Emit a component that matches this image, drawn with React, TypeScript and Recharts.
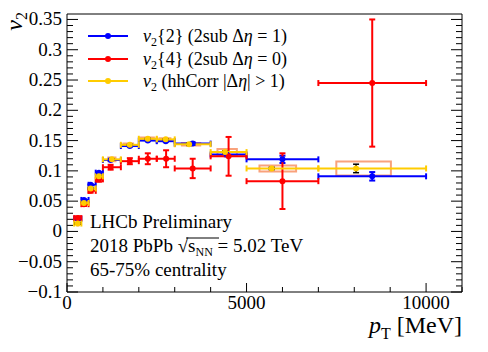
import React from 'react';
import { ComposedChart, Scatter, XAxis, YAxis, ErrorBar, ReferenceArea } from 'recharts';

const FONT = '"Liberation Serif", "Times New Roman", serif';
const BLUE = '#0000ff';
const RED = '#ff0000';
const GOLD = '#ffcc00';
const BOX = '#f9a27c';

// pT bins (MeV)
const binLo = [200, 400, 600, 800, 1000, 1500, 2000, 2500, 3000, 4000, 5000, 7000];
const binHi = [400, 600, 800, 1000, 1500, 2000, 2500, 3000, 4000, 5000, 7000, 10000];

// v2{2} (2sub, deta = 1)
const v22Pt = [305, 472, 658, 889, 1215, 1750, 2250, 2750, 3500, 4450, 6000, 8500];
const v22 = [0.021, 0.052, 0.077, 0.097, 0.118, 0.141, 0.15, 0.149, 0.145, 0.127, 0.119, 0.091];
const v22Err = [0.001, 0.001, 0.001, 0.001, 0.001, 0.001, 0.001, 0.001, 0.002, 0.003, 0.006, 0.007];

// v2{4} (2sub, deta = 0)
const v24Pt = [305, 472, 658, 889, 1215, 1750, 2250, 2760, 3500, 4500, 6000, 8500];
const v24 = [0.022, 0.045, 0.067, 0.086, 0.106, 0.116, 0.12, 0.12, 0.104, 0.124, 0.083, 0.245];
const v24Err = [0.003, 0.003, 0.003, 0.004, 0.004, 0.005, 0.009, 0.014, 0.016, 0.032, 0.046, 0.105];

// v2 hhCorr |deta| > 1, with systematic boxes
const hhPt = [300, 472, 658, 889, 1250, 1750, 2250, 2750, 3400, 4400, 5700, 8050];
const hh = [0.013, 0.047, 0.071, 0.091, 0.119, 0.143, 0.153, 0.152, 0.144, 0.131, 0.104, 0.104];
const hhErr = [0.001, 0.001, 0.001, 0.001, 0.001, 0.001, 0.001, 0.001, 0.002, 0.002, 0.002, 0.007];
const hhSysLo = [280, 440, 620, 830, 1150, 1570, 2050, 2575, 3200, 4190, 5360, 7500];
const hhSysHi = [320, 500, 700, 950, 1350, 1840, 2420, 2880, 3710, 4730, 6380, 9020];
const hhSys = [0.003, 0.003, 0.003, 0.003, 0.003, 0.002, 0.002, 0.002, 0.002, 0.005, 0.005, 0.0115];

// axis ticks
const xTicks = [0, 1000, 2000, 3000, 4000, 5000, 6000, 7000, 8000, 9000, 10000, 11000];
const xMajor = [0, 5000, 10000];
const yTicks: number[] = [];
for (let i = -10; i <= 35; i++) yTicks.push(i / 100);

const mk = (pt: number[], v: number[], err: number[]) =>
    pt.map((x, i) => ({ x, y: v[i], ex: [x - binLo[i], binHi[i] - x], ey: err[i] }));

const blueData = mk(v22Pt, v22, v22Err);
const redData = mk(v24Pt, v24, v24Err);
const goldData = mk(hhPt, hh, hhErr);

const fmtY = (v: number) => (v === 0 ? '0' : String(v).replace('-', '\u2212'));
const isMajorY = (v: number) => Math.round(v * 100) % 5 === 0;

const dot = (color: string) => (p: any) => <circle cx={p.cx} cy={p.cy} r={3} fill={color} />;

const labelStyle = { fontFamily: FONT, fontSize: 19 };

const BottomTick = (p: any) => {
    const major = xMajor.includes(p.payload.value);
    return (
        <g>
            <line x1={p.x} x2={p.x} y1={p.y} y2={p.y - (major ? 9 : 5)} stroke="#000" />
            {major && (
                <text x={p.x} y={p.y + 17} textAnchor="middle" style={labelStyle} fill="#000">
                    {p.payload.value}
                </text>
            )}
        </g>
    );
};

const TopTick = (p: any) => {
    const major = xMajor.includes(p.payload.value);
    return <line x1={p.x} x2={p.x} y1={p.y} y2={p.y + (major ? 9 : 5)} stroke="#000" />;
};

const LeftTick = (p: any) => {
    const major = isMajorY(p.payload.value);
    return (
        <g>
            <line x1={p.x} x2={p.x + (major ? 11 : 6)} y1={p.y} y2={p.y} stroke="#000" />
            {major && (
                <text x={p.x - 5} y={p.y + 6} textAnchor="end" style={labelStyle} fill="#000">
                    {fmtY(p.payload.value)}
                </text>
            )}
        </g>
    );
};

const RightTick = (p: any) => {
    const major = isMajorY(p.payload.value);
    return <line x1={p.x} x2={p.x - (major ? 11 : 6)} y1={p.y} y2={p.y} stroke="#000" />;
};

const Overlay = () => (
    <svg width={488} height={352} style={{ position: 'absolute', left: 0, top: 0, pointerEvents: 'none', fontFamily: FONT }}>
        {/* legend */}
        {[
            { c: BLUE, y: 36 },
            { c: RED, y: 59 },
            { c: GOLD, y: 81 },
        ].map((l) => (
            <g key={l.y}>
                <line x1={88} x2={128} y1={l.y} y2={l.y} stroke={l.c} strokeWidth={2} />
                <circle cx={108} cy={l.y} r={3} fill={l.c} />
            </g>
        ))}
        <text x={143} y={42} fontSize={18} fill="#000">
            <tspan fontStyle="italic">v</tspan>
            <tspan fontSize={12} dy={4}>2</tspan>
            <tspan dy={-4}>{'{2} (2sub \u0394'}</tspan>
            <tspan fontStyle="italic">η</tspan>
            <tspan>{' = 1)'}</tspan>
        </text>
        <text x={143} y={65} fontSize={18} fill="#000">
            <tspan fontStyle="italic">v</tspan>
            <tspan fontSize={12} dy={4}>2</tspan>
            <tspan dy={-4}>{'{4} (2sub \u0394'}</tspan>
            <tspan fontStyle="italic">η</tspan>
            <tspan>{' = 0)'}</tspan>
        </text>
        <text x={143} y={87} fontSize={18} fill="#000">
            <tspan fontStyle="italic">v</tspan>
            <tspan fontSize={12} dy={4}>2</tspan>
            <tspan dy={-4}>{' (hhCorr |\u0394'}</tspan>
            <tspan fontStyle="italic">η</tspan>
            <tspan>{'| > 1)'}</tspan>
        </text>

        {/* labels */}
        <text x={90} y={227.5} fontSize={19} fill="#000">LHCb Preliminary</text>
        <text x={90} y={251.5} fontSize={19} fill="#000">
            <tspan>{'2018 PbPb \u221A'}</tspan>
            <tspan>s</tspan>
            <tspan fontSize={12} dy={4}>NN</tspan>
            <tspan dy={-4}>{' = 5.02 TeV'}</tspan>
        </text>
        <line x1={186} x2={219} y1={238} y2={238} stroke="#000" strokeWidth={1} />
        <text x={90} y={276} fontSize={19} fill="#000">65-75% centrality</text>

        {/* axis titles */}
        <text transform="translate(22, 12) rotate(-90)" textAnchor="end" fontSize={24} fill="#000">
            <tspan fontStyle="italic">v</tspan>
            <tspan fontSize={16} dy={5}>2</tspan>
        </text>
        <text x={462} y={333} textAnchor="end" fontSize={24} fill="#000">
            <tspan fontStyle="italic">p</tspan>
            <tspan fontSize={16} dy={6}>T</tspan>
            <tspan dy={-6}>{' [MeV]'}</tspan>
        </text>
    </svg>
);

const App: React.FC = () => {
    return (
        <div style={{ position: 'absolute', left: 0, top: 0, width: 488, height: 352, background: '#fff' }}>
            <ComposedChart width={488} height={352} margin={{ top: 13, right: 25, bottom: 59, left: 66 }}>
                <XAxis
                    dataKey="x"
                    type="number"
                    domain={[0, 11000]}
                    ticks={xTicks}
                    interval={0}
                    height={1}
                    tickSize={0}
                    tickMargin={0}
                    tickLine={false}
                    axisLine={{ stroke: '#000' }}
                    tick={BottomTick}
                    allowDataOverflow
                />
                <XAxis
                    xAxisId="top"
                    orientation="top"
                    type="number"
                    domain={[0, 11000]}
                    ticks={xTicks}
                    interval={0}
                    height={1}
                    tickSize={0}
                    tickMargin={0}
                    tickLine={false}
                    axisLine={{ stroke: '#000' }}
                    tick={TopTick}
                    allowDataOverflow
                />
                <YAxis
                    dataKey="y"
                    type="number"
                    domain={[-0.1, 0.359]}
                    ticks={yTicks}
                    interval={0}
                    width={1}
                    tickSize={0}
                    tickMargin={0}
                    tickLine={false}
                    axisLine={{ stroke: '#000' }}
                    tick={LeftTick}
                    allowDataOverflow
                />
                <YAxis
                    yAxisId="right"
                    orientation="right"
                    type="number"
                    domain={[-0.1, 0.359]}
                    ticks={yTicks}
                    interval={0}
                    width={1}
                    tickSize={0}
                    tickMargin={0}
                    tickLine={false}
                    axisLine={{ stroke: '#000' }}
                    tick={RightTick}
                    allowDataOverflow
                />

                {hhPt.map((x, i) => (
                    <ReferenceArea
                        key={`sys-${i}`}
                        x1={hhSysLo[i]}
                        x2={hhSysHi[i]}
                        y1={hh[i] - hhSys[i]}
                        y2={hh[i] + hhSys[i]}
                        fill="none"
                        stroke={BOX}
                        strokeWidth={2}
                        ifOverflow="visible"
                    />
                ))}

                <Scatter data={blueData} dataKey="y" shape={dot(BLUE)} isAnimationActive={false}>
                    <ErrorBar dataKey="ex" direction="x" width={3} stroke={BLUE} strokeWidth={2} isAnimationActive={false} />
                    <ErrorBar dataKey="ey" direction="y" width={3} stroke={BLUE} strokeWidth={2} isAnimationActive={false} />
                </Scatter>
                <Scatter data={redData} dataKey="y" shape={dot(RED)} isAnimationActive={false}>
                    <ErrorBar dataKey="ex" direction="x" width={3} stroke={RED} strokeWidth={2} isAnimationActive={false} />
                    <ErrorBar dataKey="ey" direction="y" width={3} stroke={RED} strokeWidth={2} isAnimationActive={false} />
                </Scatter>
                <Scatter data={goldData} dataKey="y" shape={dot(GOLD)} isAnimationActive={false}>
                    <ErrorBar dataKey="ex" direction="x" width={3} stroke={GOLD} strokeWidth={2} isAnimationActive={false} />
                    <ErrorBar dataKey="ey" direction="y" width={3} stroke="#000" strokeWidth={1.5} isAnimationActive={false} />
                </Scatter>
            </ComposedChart>
            <Overlay />
        </div>
    );
};

export default App;
